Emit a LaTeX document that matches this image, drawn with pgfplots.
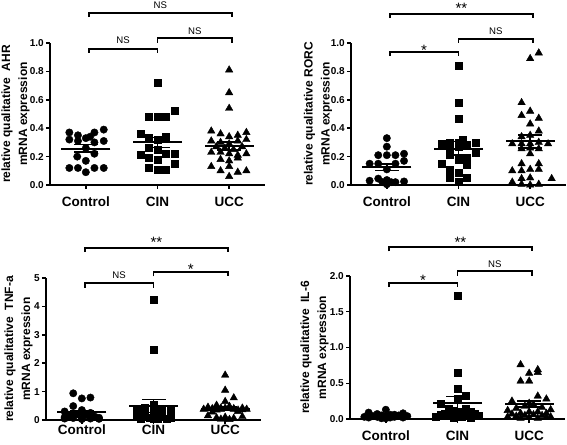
\documentclass[border=0pt]{standalone}
\usepackage{pgfplots}
\pgfplotsset{compat=1.18}
\usepackage{fontspec}
\setmainfont{Liberation Sans}
\begin{document}
\begin{tikzpicture}
\useasboundingbox (0,0) rectangle (567pt,444pt);
\tikzset{
  br/.style={line width=1.9pt, black},
  ns/.style={font=\fontsize{9.6}{11}\selectfont, anchor=base, inner sep=0pt},
  st/.style={font=\fontsize{15}{17}\selectfont, anchor=base, inner sep=0pt},
}
\pgfplotsset{
  panel/.style={scale only axis, width=215pt, height=142pt,
    xmin=-0.5, xmax=2.5, ymin=0,
    axis x line*=bottom, axis y line*=left,
    axis line style={line width=1.9pt, black},
    tick align=outside, major tick length=4pt,
    every tick/.style={black, line width=1.5pt},
    xtick={0,1,2}, xticklabels={Control,CIN,UCC},
    clip=false,
    /pgf/number format/assume math mode=true,
    yticklabel style={font=\bfseries\fontsize{10}{12}\selectfont, inner sep=2pt},
    xticklabel style={font=\bfseries\fontsize{13.5}{15}\selectfont, anchor=base},
    every axis y label/.style={rotate=90, anchor=center, align=center,
      font=\bfseries\fontsize{12}{17}\selectfont},
  },
  dec/.style={/pgf/number format/.cd, fixed, fixed zerofill, precision=1},
  dot/.style={only marks, mark=*, mark size=3.7pt, black, mark options={fill=black}},
  sq/.style={only marks, mark=square*, mark size=3.5pt, black, mark options={fill=black}},
  tri/.style={only marks, mark=triangle*, mark size=4.3pt, black, mark options={fill=black}},
  meanl/.style={only marks, mark=-, mark size=24.5pt, mark options={line width=2pt}, black},
  capl/.style={only marks, mark=-, mark size=12pt, mark options={line width=1.6pt}, black},
  vline/.style={black, line width=1.6pt, no marks},
}
% ---------------- Panel 1: AHR ----------------
\begin{axis}[panel, at={(50pt,259pt)}, anchor=south west, ymax=1.0,
  ytick={0,0.2,0.4,0.6,0.8,1.0}, yticklabel style={dec},
  xticklabel style={yshift=-18pt},
  ylabel={relative qualitative\ \ AHR\\mRNA expression},
  ylabel style={at={(axis description cs:-0.1605,0.5)}}]
\addplot[dot] coordinates {(-0.23,0.37)(-0.11,0.35)(0.06,0.34)(0.12,0.37)(0.25,0.39)(-0.23,0.32)(-0.11,0.31)(0.12,0.30)(0.25,0.31)(0,0.33)(0,0.26)(-0.12,0.20)(0.12,0.22)(0,0.17)(-0.23,0.12)(-0.11,0.12)(0.12,0.12)(0.25,0.12)(0,0.09)};
\addplot[sq] coordinates {(1,0.72)(0.88,0.48)(1,0.48)(1.12,0.48)(1.24,0.52)(0.76,0.36)(0.88,0.33)(1.12,0.34)(1,0.32)(0.88,0.26)(1,0.25)(0.76,0.21)(0.88,0.19)(1.12,0.22)(1.24,0.22)(1,0.18)(0.88,0.12)(1,0.11)(1.12,0.11)(1.24,0.15)};
\addplot[tri] coordinates {(2,0.81)(2,0.65)(2,0.54)(1.75,0.38)(1.88,0.36)(2,0.34)(2.12,0.35)(2.24,0.37)(1.75,0.31)(1.88,0.30)(2,0.29)(2.12,0.31)(2.24,0.32)(1.82,0.27)(1.94,0.26)(2.06,0.25)(2.18,0.27)(1.75,0.23)(1.88,0.23)(2,0.22)(2.12,0.21)(2.24,0.22)(1.88,0.18)(2,0.17)(2.12,0.19)(1.75,0.13)(1.88,0.10)(2,0.13)(2,0.06)(2.12,0.09)(2.24,0.10)};
\addplot[vline] coordinates {(0,0.234)(0,0.284)};
\addplot[vline] coordinates {(1,0.265)(1,0.335)};
\addplot[vline] coordinates {(2,0.247)(2,0.302)};
\addplot[meanl] coordinates {(0,0.257)(1,0.301)(2,0.273)};
\addplot[capl] coordinates {(0,0.234)(0,0.284)(1,0.265)(1,0.335)(2,0.247)(2,0.302)};
\draw[br] (axis cs:0.04,1.183) -- (axis cs:0.04,1.211) -- (axis cs:2.04,1.211) -- (axis cs:2.04,1.183);
\draw[br] (axis cs:0.04,0.930) -- (axis cs:0.04,0.958) -- (axis cs:1.00,0.958) -- (axis cs:1.00,0.930);
\draw[br] (axis cs:1.00,1.000) -- (axis cs:1.00,1.035) -- (axis cs:2.04,1.035) -- (axis cs:2.04,1.000);
\node[ns] at (axis cs:1.04,1.243) {NS};
\node[ns] at (axis cs:0.52,0.996) {NS};
\node[ns] at (axis cs:1.52,1.063) {NS};
\end{axis}
% ---------------- Panel 2: RORC ----------------
\begin{axis}[panel, at={(351pt,259pt)}, anchor=south west, ymax=1.0,
  ytick={0,0.2,0.4,0.6,0.8,1.0}, yticklabel style={dec},
  xticklabel style={yshift=-18pt},
  ylabel={relative qualitative RORC\\mRNA expression},
  ylabel style={at={(axis description cs:-0.1535,0.5)}}]
\addplot[dot] coordinates {(0,0.33)(0,0.27)(-0.12,0.21)(0,0.21)(0.12,0.21)(0.24,0.22)(0.24,0.17)(-0.24,0.15)(-0.12,0.15)(0.12,0.15)(0,0.11)(-0.24,0.03)(-0.12,0.045)(-0.06,0.02)(0,0.035)(0.06,0.02)(0.12,0.02)(0.24,0.025)(0,0.005)};
\addplot[sq] coordinates {(1,0.84)(1,0.58)(1,0.47)(0.76,0.29)(0.88,0.30)(1,0.30)(1.06,0.32)(1.12,0.28)(1.24,0.30)(0.88,0.255)(1,0.27)(1.24,0.23)(0.88,0.21)(1,0.18)(1.12,0.18)(0.76,0.15)(1.12,0.14)(0.88,0.11)(1,0.09)(0.88,0.05)(1,0.025)(1.12,0.05)};
\addplot[tri] coordinates {(2,0.89)(2.12,0.93)(1.88,0.58)(2,0.52)(1.88,0.49)(2.12,0.47)(2,0.43)(2.12,0.38)(1.88,0.34)(2,0.35)(1.75,0.29)(1.88,0.29)(2,0.29)(2.12,0.30)(2.25,0.29)(1.88,0.255)(2,0.26)(2.12,0.255)(2,0.22)(1.88,0.15)(2.12,0.15)(2,0.11)(2.12,0.11)(1.88,0.10)(1.75,0.10)(1.88,0.045)(2,0.05)(1.75,0.02)(1.88,0.005)(2,0.0)(2.12,0.005)(2.3,0.045)};
\addplot[vline] coordinates {(0,0.102)(0,0.148)};
\addplot[vline] coordinates {(1,0.213)(1,0.305)};
\addplot[vline] coordinates {(2,0.262)(2,0.352)};
\addplot[meanl] coordinates {(0,0.125)(1,0.255)(2,0.307)};
\addplot[capl] coordinates {(0,0.102)(0,0.148)(1,0.213)(1,0.305)(2,0.262)(2,0.352)};
\draw[br] (axis cs:0.04,1.176) -- (axis cs:0.04,1.204) -- (axis cs:2.04,1.204) -- (axis cs:2.04,1.176);
\draw[br] (axis cs:0.04,0.908) -- (axis cs:0.04,0.937) -- (axis cs:1.00,0.937) -- (axis cs:1.00,0.908);
\draw[br] (axis cs:1.00,1.000) -- (axis cs:1.00,1.028) -- (axis cs:2.04,1.028) -- (axis cs:2.04,1.000);
\node[st] at (axis cs:1.04,1.207) {**};
\node[st] at (axis cs:0.52,0.911) {*};
\node[ns] at (axis cs:1.52,1.063) {NS};
\end{axis}
% ---------------- Panel 3: TNF-a ----------------
\begin{axis}[panel, at={(46pt,24pt)}, anchor=south west, ymax=5,
  ytick={0,1,2,3,4,5},
  xticklabel style={yshift=-10pt},
  ylabel={relative qualitative\ \ TNF-a\\mRNA expression},
  ylabel style={at={(axis description cs:-0.128,0.5)}}]
\addplot[dot] coordinates {(-0.12,0.94)(0,0.76)(0.12,0.79)(-0.12,0.49)(0,0.35)(-0.24,0.30)(0.12,0.25)(-0.06,0.20)(0.06,0.18)(-0.18,0.15)(0.18,0.12)(-0.24,0.10)(0.24,0.08)(-0.12,0.07)(0,0.06)(0.12,0.05)(-0.24,0.05)(0.24,0.04)(0,0.03)};
\addplot[sq] coordinates {(1,4.25)(1,2.48)(1,0.55)(0.88,0.45)(1.12,0.40)(0.76,0.35)(1.24,0.35)(1,0.30)(0.88,0.25)(1.12,0.22)(0.76,0.20)(1.24,0.18)(1,0.15)(0.88,0.12)(1.12,0.10)(0.76,0.10)(1.24,0.08)(0.94,0.07)(1.06,0.06)(0.82,0.05)(1.18,0.04)(1,0.03)};
\addplot[tri] coordinates {(2,1.58)(2,1.05)(2.12,0.78)(2,0.65)(1.88,0.52)(2.06,0.48)(1.76,0.45)(2.24,0.42)(1.94,0.42)(2.12,0.40)(1.82,0.40)(2.3,0.38)(1.7,0.38)(2.18,0.35)(1.88,0.45)(2,0.42)(2.06,0.40)(1.94,0.38)(2.24,0.36)(1.76,0.40)(2.12,0.38)(1.88,0.35)(2.18,0.30)(1.82,0.28)(1.76,0.15)(2.24,0.12)(2,0.10)(1.88,0.08)(2.12,0.06)(1.94,0.03)(2.06,0.02)};
\addplot[vline] coordinates {(0,0.205)(0,0.335)};
\addplot[vline] coordinates {(1,0.26)(1,0.72)};
\addplot[vline] coordinates {(2,0.34)(2,0.46)};
\addplot[meanl] coordinates {(0,0.27)(1,0.49)(2,0.40)};
\addplot[capl] coordinates {(0,0.205)(0,0.335)(1,0.26)(1,0.72)(2,0.34)(2,0.46)};
\draw[br] (axis cs:0.04,5.915) -- (axis cs:0.04,6.056) -- (axis cs:2.04,6.056) -- (axis cs:2.04,5.915);
\draw[br] (axis cs:0.04,4.660) -- (axis cs:0.04,4.820) -- (axis cs:1.00,4.820) -- (axis cs:1.00,4.660);
\draw[br] (axis cs:1.00,5.060) -- (axis cs:1.00,5.210) -- (axis cs:2.04,5.210) -- (axis cs:2.04,5.060);
\node[st] at (axis cs:1.04,6.08) {**};
\node[ns] at (axis cs:0.52,4.975) {NS};
\node[st] at (axis cs:1.52,5.14) {*};
\end{axis}
% ---------------- Panel 4: IL-6 ----------------
\begin{axis}[panel, at={(350pt,25pt)}, anchor=south west, ymax=2.0, height=143pt,
  ytick={0,0.5,1.0,1.5,2.0}, yticklabel style={dec},
  xticklabel style={yshift=-17pt},
  ylabel={relative qualitative\ \ IL-6\\mRNA expression},
  ylabel style={at={(axis description cs:-0.165,0.5)}}]
\addplot[dot] coordinates {(0,0.13)(-0.24,0.09)(0.24,0.08)(-0.12,0.07)(0.12,0.06)(0.06,0.06)(-0.06,0.05)(0.18,0.05)(-0.18,0.04)(0,0.04)(0.3,0.04)(-0.3,0.03)(-0.12,0.03)(0.12,0.03)(0.24,0.02)(-0.24,0.02)(0.06,0.02)(-0.06,0.01)(0,0.01)};
\addplot[sq] coordinates {(1,1.73)(1,0.65)(1,0.42)(1.12,0.33)(1,0.28)(0.76,0.22)(0.88,0.15)(1.12,0.14)(0.94,0.12)(1.06,0.10)(1.18,0.10)(0.82,0.08)(1.24,0.07)(0.76,0.06)(1,0.05)(1.12,0.05)(0.88,0.04)(1.3,0.04)(0.7,0.03)(1.06,0.03)(0.94,0.02)(1.18,0.02)};
\addplot[tri] coordinates {(1.88,0.76)(2,0.64)(2.12,0.69)(2.12,0.65)(1.88,0.53)(2,0.53)(2.12,0.32)(2.24,0.28)(1.76,0.25)(2,0.22)(2.06,0.20)(1.94,0.18)(2.18,0.16)(1.82,0.15)(2.3,0.13)(1.7,0.12)(2,0.10)(2.12,0.10)(1.88,0.08)(2.24,0.08)(1.76,0.07)(2.06,0.06)(1.94,0.05)(2.18,0.05)(1.82,0.04)(2.3,0.03)(1.7,0.03)(2,0.02)(2.12,0.01)(1.88,0.01)(2.24,0.02)};
\addplot[vline] coordinates {(0,0.039)(0,0.055)};
\addplot[vline] coordinates {(1,0.135)(1,0.313)};
\addplot[vline] coordinates {(2,0.17)(2,0.25)};
\addplot[meanl] coordinates {(0,0.047)(1,0.224)(2,0.21)};
\addplot[capl] coordinates {(0,0.039)(0,0.055)(1,0.135)(1,0.313)(2,0.17)(2,0.25)};
\draw[br] (axis cs:0.04,2.345) -- (axis cs:0.04,2.406) -- (axis cs:2.04,2.406) -- (axis cs:2.04,2.345);
\draw[br] (axis cs:0.04,1.846) -- (axis cs:0.04,1.906) -- (axis cs:1.00,1.906) -- (axis cs:1.00,1.846);
\draw[br] (axis cs:1.00,2.000) -- (axis cs:1.00,2.065) -- (axis cs:2.04,2.065) -- (axis cs:2.04,2.000);
\node[st] at (axis cs:1.04,2.401) {**};
\node[st] at (axis cs:0.52,1.874) {*};
\node[ns] at (axis cs:1.52,2.116) {NS};
\end{axis}
\end{tikzpicture}
\end{document}
